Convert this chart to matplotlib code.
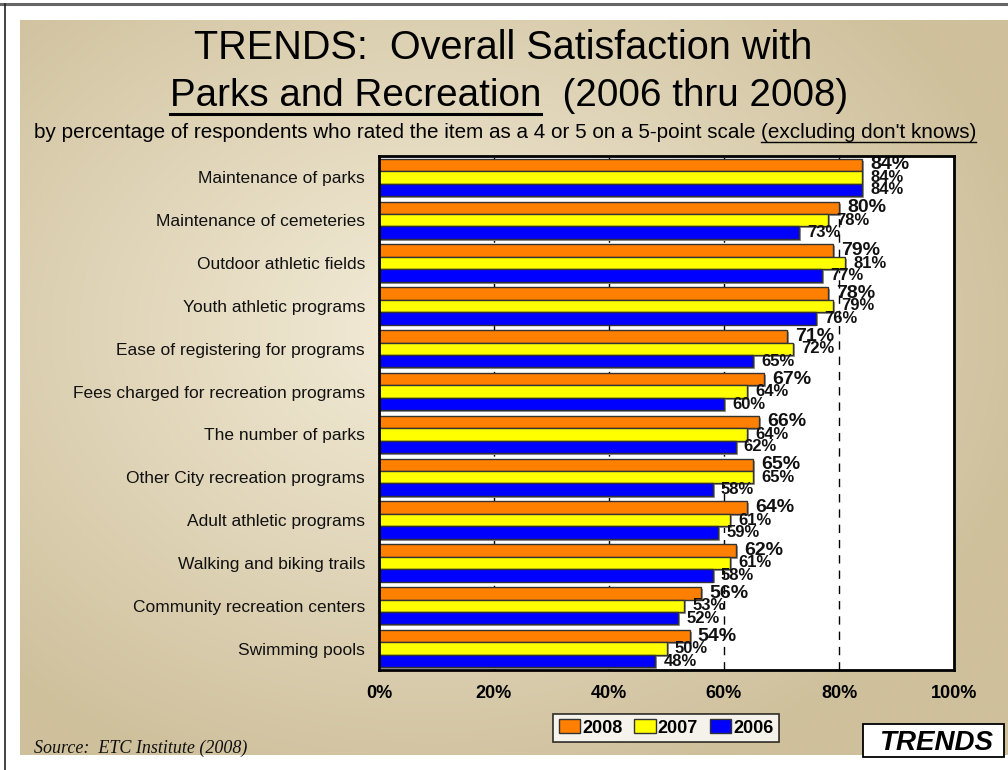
import numpy as np
import matplotlib
matplotlib.use("Agg")
import matplotlib.pyplot as plt
from matplotlib.patches import Rectangle, Patch
from matplotlib import font_manager as fm

# ---- data ----
categories = [
    "Maintenance of parks",
    "Maintenance of cemeteries",
    "Outdoor athletic fields",
    "Youth athletic programs",
    "Ease of registering for programs",
    "Fees charged for recreation programs",
    "The number of parks",
    "Other City recreation programs",
    "Adult athletic programs",
    "Walking and biking trails",
    "Community recreation centers",
    "Swimming pools",
]
vals_2008 = [84, 80, 79, 78, 71, 67, 66, 65, 64, 62, 56, 54]
vals_2007 = [84, 78, 81, 79, 72, 64, 64, 65, 61, 61, 53, 50]
vals_2006 = [84, 73, 77, 76, 65, 60, 62, 58, 59, 58, 52, 48]
series_names = ["2008", "2007", "2006"]
series_colors = ["#FF8000", "#FFFF00", "#0000FF"]
x_ticks = [0, 20, 40, 60, 80, 100]
x_tick_labels = ["0%", "20%", "40%", "60%", "80%", "100%"]

NARROW = ["Liberation Sans Narrow", "Liberation Sans", "DejaVu Sans"]
SANS = ["Liberation Sans", "DejaVu Sans"]
SERIF = ["Liberation Serif", "DejaVu Serif"]

W, H = 1008, 770
fig = plt.figure(figsize=(W / 100, H / 100), dpi=100, facecolor="white")


def fx(px):
    return px / W


def fy(py):
    return 1 - py / H


# ---- beige gradient panel ----
bg = fig.add_axes([fx(20), fy(755), fx(1008) - fx(20), fy(20) - fy(755)])
bg.set_axis_off()
ny, nx = 200, 260
yy, xx = np.mgrid[0:ny, 0:nx]
xn = (xx / (nx - 1)) * 988 + 20
yn = (yy / (ny - 1)) * 735 + 20
r = np.sqrt(((xn - 430) / 620) ** 2 + ((yn - 330) / 480) ** 2)
r = np.clip(r, 0, 1)
c_in = np.array([0xF3, 0xEC, 0xD8]) / 255
c_out = np.array([0xCF, 0xC0, 0x9C]) / 255
img = c_in[None, None, :] * (1 - r[..., None]) + c_out[None, None, :] * r[..., None]
bg.imshow(img, aspect="auto", extent=[0, 1, 0, 1], interpolation="bicubic")
bg.set_xlim(0, 1)
bg.set_ylim(0, 1)

# outer frame lines
fig.add_artist(plt.Line2D([0, 1], [fy(4), fy(4)], color="#666666", lw=2.2,
                          transform=fig.transFigure))
fig.add_artist(plt.Line2D([fx(5), fx(5)], [0, fy(4)], color="#222222", lw=1.2,
                          transform=fig.transFigure))

# ---- bar chart ----
ax = fig.add_axes([fx(379), fy(670), fx(954) - fx(379), fy(156) - fy(670)])
ax.set_facecolor("white")
n = len(categories)
y = np.arange(n)
bh = 0.29
offsets = [-bh, 0, bh]
series = [vals_2008, vals_2007, vals_2006]

for gx in [20, 40, 60, 80]:
    ax.axvline(gx, color="black", lw=1.0, ls=(0, (6, 5)), zorder=1)

# soft drop shadow under each bar
for vals, off in zip(series, offsets):
    ax.barh(y + off + 0.045, vals, height=bh, left=0.35, color="#9a9a9a",
            edgecolor="none", zorder=2)

for vals, off, col, name in zip(series, offsets, series_colors, series_names):
    ax.barh(y + off, vals, height=bh, color=col, edgecolor="#333333",
            linewidth=1.0, zorder=3, label=name)

for i in range(n):
    for k, (vals, off) in enumerate(zip(series, offsets)):
        fs = 14 if k == 0 else 12
        ax.annotate(f"{vals[i]}%", xy=(vals[i], y[i] + off), xytext=(6, 0),
                    textcoords="offset points", ha="left", va="center",
                    fontsize=fs, fontweight="bold", family=NARROW,
                    color="#111111", zorder=5)

ax.set_xlim(0, 100)
ax.set_ylim(n - 0.5, -0.5)
ax.set_xticks(x_ticks)
ax.set_xticklabels(x_tick_labels, fontsize=13, fontweight="bold", family=SANS)
ax.set_yticks(y)
ax.set_yticklabels(categories, fontsize=12.5, family=SANS, color="#111111")
ax.tick_params(axis="x", length=0, pad=11)
ax.tick_params(axis="y", length=0, pad=10)
for sp in ax.spines.values():
    sp.set_linewidth(2.0)
    sp.set_color("black")
    sp.set_zorder(6)

# ---- legend ----
handles = [Patch(facecolor=c, edgecolor="#333333", label=nm)
           for c, nm in zip(series_colors, series_names)]
leg = fig.legend(handles=handles, loc="center", bbox_to_anchor=(fx(666), fy(728)),
                 ncol=3, frameon=True, fancybox=False, shadow=False,
                 prop=fm.FontProperties(family=SANS, weight="bold", size=13),
                 handlelength=1.2, handleheight=0.8, handletextpad=0.1,
                 columnspacing=0.65, borderpad=0.3, borderaxespad=0)
leg.get_frame().set_edgecolor("black")
leg.get_frame().set_linewidth(1.2)

# ---- titles ----
renderer = fig.canvas.get_renderer()

fig.text(fx(503), fy(48), "TRENDS:  Overall Satisfaction with", ha="center",
         va="center", fontsize=28.5, family=NARROW, color="black")


def underlined_line(parts, cx, cy, size, ul_offset, ul_lw):
    """Draw a centred line made of (text, underline?) pieces."""
    items = []
    total = 0
    for txt, ul in parts:
        t = fig.text(0, fy(cy), txt, ha="left", va="center", fontsize=size,
                     family=NARROW, color="black")
        bb = t.get_window_extent(renderer)
        items.append((t, bb.width, ul))
        total += bb.width
    x0 = cx - total / 2
    for t, w, ul in items:
        t.set_x(fx(x0))
        if ul:
            fig.add_artist(plt.Line2D([fx(x0), fx(x0 + w)],
                                      [fy(cy + ul_offset), fy(cy + ul_offset)],
                                      color="black", lw=ul_lw,
                                      transform=fig.transFigure))
        x0 += w


underlined_line([("Parks and Recreation", True), ("  (2006 thru 2008)", False)],
                509, 96, 27.8, 18, 2.2)
underlined_line([("by percentage of respondents who rated the item as a 4 or 5 on a 5-point scale ", False),
                 ("(excluding don't knows)", True)],
                505, 132, 14.9, 9.5, 1.0)

# ---- footer ----
fig.text(fx(34), fy(748), "Source:  ETC Institute (2008)", ha="left", va="center",
         fontsize=13, style="italic", family=SERIF, color="#111111")

fig.add_artist(Rectangle((fx(863), fy(757)), fx(1004) - fx(863), fy(724) - fy(757),
                         transform=fig.transFigure, facecolor="white",
                         edgecolor="black", lw=1.3))
fig.text(fx(936), fy(743), "TRENDS", ha="center", va="center", fontsize=20,
         fontweight="bold", style="italic", family=NARROW, color="black")

fig.savefig("out.png", dpi=100, facecolor="white")
